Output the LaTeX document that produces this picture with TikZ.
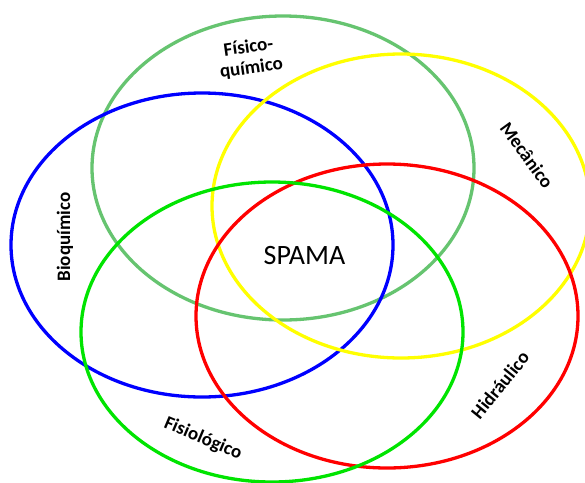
\documentclass[tikz,border=0pt]{standalone}
\usepackage{fontspec}
\setmainfont{Carlito}
\definecolor{cfq}{RGB}{102,196,112}
\definecolor{cbio}{RGB}{0,0,255}
\definecolor{cmec}{RGB}{255,255,0}
\definecolor{chid}{RGB}{255,0,0}
\definecolor{cfis}{RGB}{0,228,0}
\begin{document}
\begin{tikzpicture}[x=1pt,y=-1pt,
  ring/.style={line width=3.3pt},
  lab/.style={font=\fontsize{19}{21}\selectfont\bfseries, inner sep=0pt, align=center, text=black},
  center/.style={font=\fontsize{28}{30}\selectfont, inner sep=0pt, text=black}]
\useasboundingbox (0,0) rectangle (585,482);
\fill[white] (0,0) rectangle (585,482);
\draw[ring, cfq]  (283,168) ellipse [x radius=191pt, y radius=152pt];
\draw[ring, cbio] (202,245) ellipse [x radius=191pt, y radius=152pt];
\draw[ring, cmec] (401,206) ellipse [x radius=189pt, y radius=152pt];
\draw[ring, chid] (387,316) ellipse [x radius=191pt, y radius=152pt];
\draw[ring, cfis] (272,332) ellipse [x radius=191pt, y radius=150pt];
\node[center] (spama) at (304.5,256) {SPAMA};
\node[lab, rotate=8] (fq) at (250,58) {Físico-\\químico};
\node[lab, rotate=-54] (mec) at (527,155) {Mecânico};
\node[lab, rotate=90] (bio) at (65,237) {Bioquímico};
\node[lab, rotate=-23] (fis) at (203,439) {Fisiológico};
\node[lab, rotate=51] (hid) at (500,385) {Hidráulico};
\end{tikzpicture}
\end{document}
